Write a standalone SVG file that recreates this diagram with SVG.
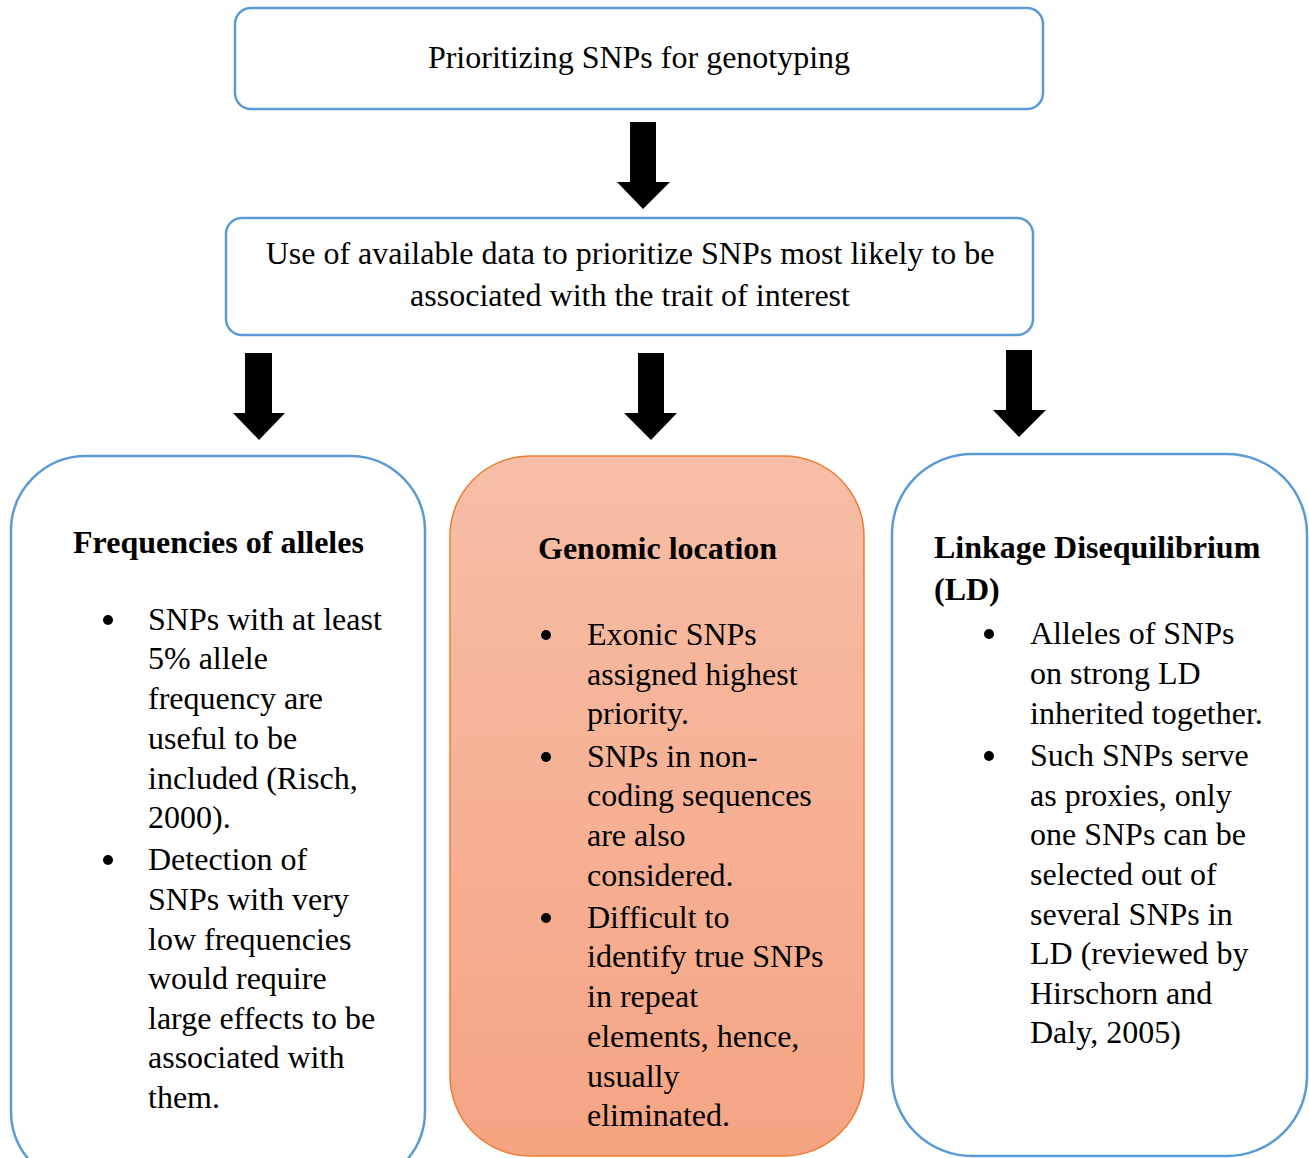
<svg xmlns="http://www.w3.org/2000/svg" width="1309" height="1158" viewBox="0 0 1309 1158">
<style>
.t{font-family:"Liberation Serif","Times New Roman",serif;font-size:32px;fill:#000}
.b{font-weight:bold}
.blue{fill:#fff;stroke:#5b9bd5;stroke-width:2.5}
.arr{fill:#000}
</style>
<defs>
<linearGradient id="og" x1="0" y1="0" x2="0" y2="1">
<stop offset="0" stop-color="#f7bea7"/>
<stop offset="1" stop-color="#f5a483"/>
</linearGradient>
</defs>
<rect width="1309" height="1158" fill="#fff"/>
<g id="top">
<rect class="blue" x="235" y="8" width="808" height="101" rx="16"/>
<text class="t" x="639" y="68" text-anchor="middle">Prioritizing SNPs for genotyping</text>
</g>
<g id="use">
<rect class="blue" x="226" y="218" width="807" height="117" rx="16"/>
<text class="t" x="630" y="264" text-anchor="middle">Use of available data to prioritize SNPs most likely to be</text>
<text class="t" x="630" y="306" text-anchor="middle">associated with the trait of interest</text>
</g>
<g id="connectors">
<polygon class="arr" points="630,122 656,122 656,182 670,182 643,209 617,182 630,182"/>
<polygon class="arr" points="245,353 272,353 272,413 285,413 259,440 233,413 245,413"/>
<polygon class="arr" points="638,353 664,353 664,413 677,413 651,440 624,413 638,413"/>
<polygon class="arr" points="1006,350 1032,350 1032,410 1046,410 1019,437 993,410 1006,410"/>
</g>
<g id="freq">
<rect class="blue" x="11" y="456" width="414" height="730" rx="75"/>
<text class="t b" x="73" y="553">Frequencies of alleles</text>
<g class="t">
<circle cx="108" cy="620" r="5"/>
<text x="148" y="630">SNPs with at least</text>
<text x="148" y="669">5% allele</text>
<text x="148" y="709">frequency are</text>
<text x="148" y="749">useful to be</text>
<text x="148" y="789">included (Risch,</text>
<text x="148" y="828">2000).</text>
<circle cx="108" cy="860" r="5"/>
<text x="148" y="870">Detection of</text>
<text x="148" y="910">SNPs with very</text>
<text x="148" y="950">low frequencies</text>
<text x="148" y="989">would require</text>
<text x="148" y="1029">large effects to be</text>
<text x="148" y="1068">associated with</text>
<text x="148" y="1108">them.</text>
</g>
</g>
<g id="genomic">
<rect x="450" y="456" width="414" height="700" rx="80" fill="url(#og)" stroke="#ed7d31" stroke-width="1.5"/>
<text class="t b" x="538" y="559">Genomic location</text>
<g class="t">
<circle cx="546" cy="635" r="5"/>
<text x="587" y="645">Exonic SNPs</text>
<text x="587" y="685">assigned highest</text>
<text x="587" y="724">priority.</text>
<circle cx="546" cy="757" r="5"/>
<text x="587" y="767">SNPs in non-</text>
<text x="587" y="806">coding sequences</text>
<text x="587" y="846">are also</text>
<text x="587" y="886">considered.</text>
<circle cx="546" cy="918" r="5"/>
<text x="587" y="928">Difficult to</text>
<text x="587" y="967">identify true SNPs</text>
<text x="587" y="1007">in repeat</text>
<text x="587" y="1047">elements, hence,</text>
<text x="587" y="1087">usually</text>
<text x="587" y="1126">eliminated.</text>
</g>
</g>
<g id="ld">
<rect class="blue" x="892" y="454" width="415" height="702" rx="80"/>
<text class="t b" x="934" y="558">Linkage Disequilibrium</text>
<text class="t b" x="934" y="600">(LD)</text>
<g class="t">
<circle cx="989" cy="634" r="5"/>
<text x="1030" y="644">Alleles of SNPs</text>
<text x="1030" y="684">on strong LD</text>
<text x="1030" y="724">inherited together.</text>
<circle cx="989" cy="756" r="5"/>
<text x="1030" y="766">Such SNPs serve</text>
<text x="1030" y="806">as proxies, only</text>
<text x="1030" y="845">one SNPs can be</text>
<text x="1030" y="885">selected out of</text>
<text x="1030" y="925">several SNPs in</text>
<text x="1030" y="964">LD (reviewed by</text>
<text x="1030" y="1004">Hirschorn and</text>
<text x="1030" y="1043">Daly, 2005)</text>
</g>
</g>
</svg>
